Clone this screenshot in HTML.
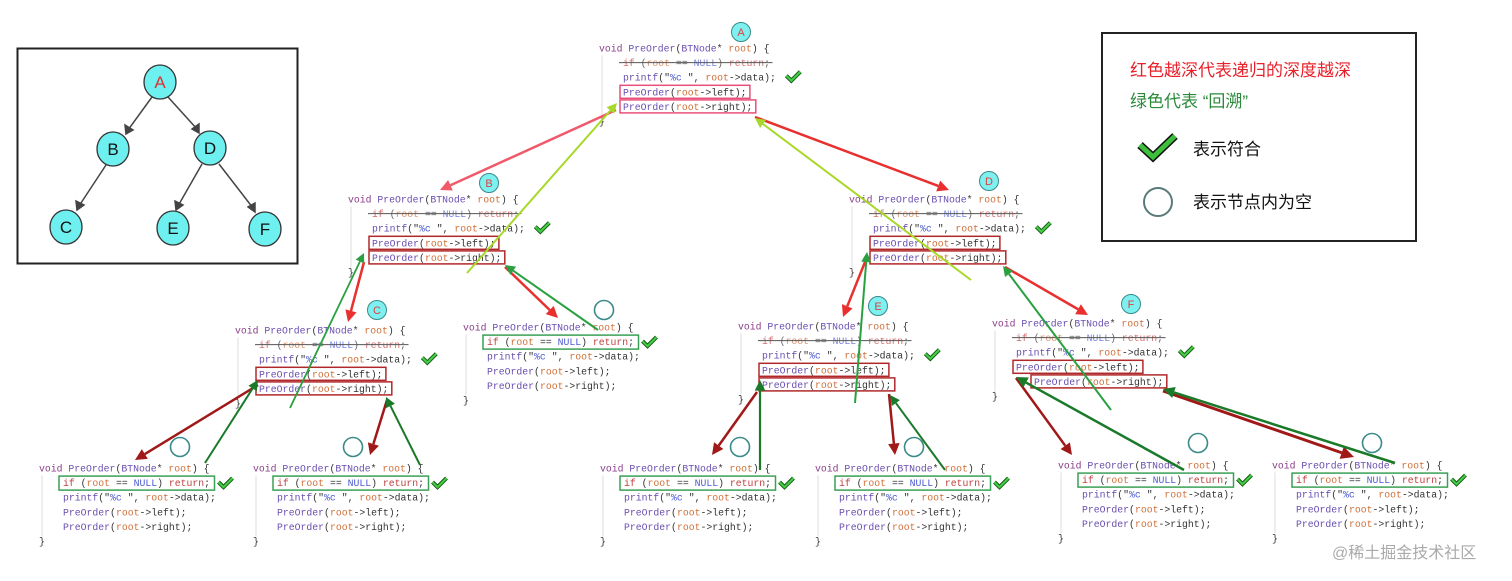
<!DOCTYPE html>
<html><head><meta charset="utf-8">
<style>
html,body{margin:0;padding:0;background:#fff;}
body{width:1512px;height:581px;overflow:hidden;position:relative;}
svg{position:absolute;left:0;top:0;}
.c{font-family:"Liberation Mono",monospace;font-size:9.8px;fill:#333;}
</style></head><body>
<svg id="s" width="1512" height="581" xmlns="http://www.w3.org/2000/svg">
<!-- tree box -->
<rect x="17.5" y="48.5" width="280" height="215" fill="#fff" stroke="#222" stroke-width="2"/>
<g stroke="#444" stroke-width="1.5" fill="#444">
<line x1="152" y1="97" x2="128" y2="130"/><polygon points="126,134 125,125 133,130"/>
<line x1="168" y1="97" x2="197" y2="129"/><polygon points="199,133 192,129 199,124"/>
<line x1="106" y1="165" x2="79" y2="206"/><polygon points="77,210 76,201 84,205"/>
<line x1="202" y1="164" x2="178" y2="206"/><polygon points="176,210 175,201 183,205"/>
<line x1="219" y1="164" x2="253" y2="208"/><polygon points="255,212 248,207 255,203"/>
</g>
<g stroke="#333" stroke-width="1.3" fill="#6ef0f0">
<ellipse cx="160" cy="82" rx="16" ry="17"/><ellipse cx="113" cy="149" rx="16" ry="17"/><ellipse cx="210" cy="148" rx="16" ry="17"/>
<ellipse cx="66" cy="227" rx="16" ry="17"/><ellipse cx="173" cy="228" rx="16" ry="17"/><ellipse cx="265" cy="229" rx="16" ry="17"/>
</g>
<g font-family="Liberation Sans,sans-serif" font-size="17" text-anchor="middle" fill="#111">
<text x="160" y="88" fill="#e03030">A</text><text x="113" y="155">B</text><text x="210" y="154">D</text>
<text x="66" y="233">C</text><text x="173" y="234">E</text><text x="265" y="235">F</text>
</g>
<!-- legend -->
<rect x="1102" y="33" width="314" height="208" fill="#fff" stroke="#222" stroke-width="2"/>
<g font-family="Liberation Sans,'Noto Sans CJK SC',sans-serif" font-size="17">
<text x="1130" y="76" fill="#e8202a">红色越深代表递归的深度越深</text>
<text x="1130" y="107" fill="#2a8a3a">绿色代表 “回溯”</text>
<text x="1193" y="155" fill="#111">表示符合</text>
<text x="1193" y="208" fill="#111">表示节点内为空</text>
</g>
<path d="M1140,145 L1153,157 L1175,136" fill="none" stroke="#111" stroke-width="8" stroke-linejoin="miter"/>
<path d="M1140,145 L1153,157 L1175,136" fill="none" stroke="#3cc03c" stroke-width="5"/>
<circle cx="1158" cy="202" r="14" fill="#fff" stroke="#5a7a7a" stroke-width="2"/>
<text x="1332" y="558" font-family="Liberation Sans,'Noto Sans CJK SC',sans-serif" font-size="16" fill="#aaa">@稀土掘金技术社区</text>
<g id="code"></g>
<g id="arr"></g>
</svg>
<script>
const CW=5.9, LH=14.6;
let out="";
function esc(s){return s.replace(/&/g,"&amp;").replace(/</g,"&lt;").replace(/>/g,"&gt;");}
const P="#6a4fb0",R="#d0703a",K="#c04040",B="#4a5ad0";
function line(x,y,parts,extra){
  let t=`<text class="c" x="${x}" y="${y}" xml:space="preserve" ${extra||""}>`;
  for(const [s,c] of parts){t+=`<tspan fill="${c}">${esc(s)}</tspan>`;}
  return t+"</text>";
}
const L0=[["void ","#8a3d8a"],["PreOrder","#6a4fb0"],["(","#333"],["BTNode","#6a4fb0"],["* ","#333"],["root",R],[") {","#333"]];
const L1=[["if ",K],["(","#333"],["root",R],[" == ","#333"],["NULL",B],[") ","#333"],["return",K],[";","#333"]];
const L2=[["printf","#6a4fb0"],["(\"","#333"],["%c",B],[" \", ","#333"],["root",R],["->data);","#333"]];
const L3=[["PreOrder",P],["(","#333"],["root",R],["->left);","#333"]];
const L4=[["PreOrder",P],["(","#333"],["root",R],["->right);","#333"]];
function check(x,y){return `<path d="M${x},${y} l5,5 l9,-9" fill="none" stroke="#115511" stroke-width="4"/><path d="M${x},${y} l5,5 l9,-9" fill="none" stroke="#44cc44" stroke-width="2.2"/>`;}
function block(x,y,type,bc,rOff){
  const ys=[0,1,2,3,4,5].map(i=>y+3.5+i*LH);
  const ix=x+24;
  out+=`<line x1="${x+3}" y1="${ys[0]+4}" x2="${x+3}" y2="${ys[5]-8}" stroke="#ddd" stroke-width="1"/>`;
  out+=line(x,ys[0],L0);
  if(type==="n"){
    out+=line(ix,ys[1],L1,'opacity="0.75"');
    out+=`<line x1="${ix-4}" y1="${ys[1]-3.5}" x2="${ix+25*CW+2}" y2="${ys[1]-3.5}" stroke="#555" stroke-width="1"/>`;
    out+=line(ix,ys[2],L2);
    out+=check(ix+27*CW+4,ys[2]-5);
    out+=line(ix,ys[3],L3);
    const ro=rOff||0;
    out+=line(ix+ro,ys[4],L4);
    out+=`<rect x="${ix-3}" y="${ys[3]-10}" width="${21*CW+6}" height="13" fill="none" stroke="${bc}" stroke-width="1.5"/>`;
    out+=`<rect x="${ix-3+ro}" y="${ys[4]-10}" width="${22*CW+6}" height="13" fill="none" stroke="${bc}" stroke-width="1.5"/>`;
  } else {
    out+=line(ix,ys[1],L1);
    out+=`<rect x="${ix-4}" y="${ys[1]-10}" width="${25*CW+8}" height="14" fill="none" stroke="#3aa055" stroke-width="1.5"/>`;
    out+=check(ix+25*CW+8,ys[1]-4);
    out+=line(ix,ys[2],L2);
    out+=line(ix,ys[3],L3);
    out+=line(ix,ys[4],L4);
  }
  out+=line(x,ys[5],[["}","#333"]]);
}
const DR="#b0282a";
block(599,48,"n","#e8507a");
block(348,199,"n",DR);
block(849,199,"n",DR);
block(235,330,"n",DR);
block(463,327,"z");
block(738,326,"n",DR);
block(992,323,"n",DR,18);
block(39,468,"z");block(253,468,"z");block(600,468,"z");block(815,468,"z");block(1058,465,"z");block(1272,465,"z");
function lab(x,y,t){out+=`<circle cx="${x}" cy="${y}" r="9.5" fill="#7ff0f0" stroke="#3a8a8a" stroke-width="1"/><text x="${x}" y="${y+4}" text-anchor="middle" font-family="Liberation Sans,sans-serif" font-size="11" fill="#e04040">${t}</text>`;}
lab(741,32,"A");lab(489,183,"B");lab(989,181,"D");lab(377,310,"C");lab(878,306,"E");lab(1131,304,"F");
for(const [x,y] of [[604,310],[180,447],[353,447],[740,447],[914,447],[1198,443],[1372,443]])
  out+=`<circle cx="${x}" cy="${y}" r="9.5" fill="#fff" stroke="#3a8a8a" stroke-width="1.6"/>`;
document.getElementById("code").innerHTML=out;
let a="";
function arrow(x1,y1,x2,y2,c,w){
  const dx=x2-x1,dy=y2-y1,l=Math.hypot(dx,dy),ux=dx/l,uy=dy/l;
  const hl=4+w*3,hw=2+w*1.5;
  const bx=x2-ux*hl,by=y2-uy*hl;
  a+=`<line x1="${x1}" y1="${y1}" x2="${bx}" y2="${by}" stroke="${c}" stroke-width="${w}"/>`;
  a+=`<polygon points="${x2},${y2} ${bx-uy*hw},${by+ux*hw} ${bx+uy*hw},${by-ux*hw}" fill="${c}"/>`;
}
const r1="#f05a6a",r2="#e8302f",r3="#a01818",g1="#a8d82a",g2="#2aa040",g3="#1a7a2a";
arrow(616,110,440,190,r1,2.5);
arrow(467,273,617,103,g1,2);
arrow(755,117,949,190,r2,2.5);
arrow(971,280,755,118,g1,2);
arrow(364,262,348,322,r2,2.5);
arrow(290,408,364,253,g2,1.8);
arrow(505,267,558,318,r2,2.5);
arrow(598,330,505,265,g2,2);
arrow(867,257,843,317,r2,2.5);
arrow(855,403,867,252,g2,2);
arrow(1005,267,1088,315,r2,2.5);
arrow(1111,410,1003,266,g2,2);
arrow(258,385,135,460,r3,2.5);
arrow(205,463,258,380,g3,2);
arrow(387,400,370,455,r3,2.5);
arrow(420,465,386,397,g3,2);
arrow(757,392,712,455,r3,2.5);
arrow(760,470,760,380,g3,2.2);
arrow(889,394,895,455,r3,2.5);
arrow(945,470,890,395,g3,2);
arrow(1016,378,1072,455,r3,2.5);
arrow(1184,470,1016,377,g3,2.5);
arrow(1163,391,1354,457,r3,3);
arrow(1395,463,1163,389,g3,2.5);
document.getElementById("arr").innerHTML=a;
</script>
</body></html>
